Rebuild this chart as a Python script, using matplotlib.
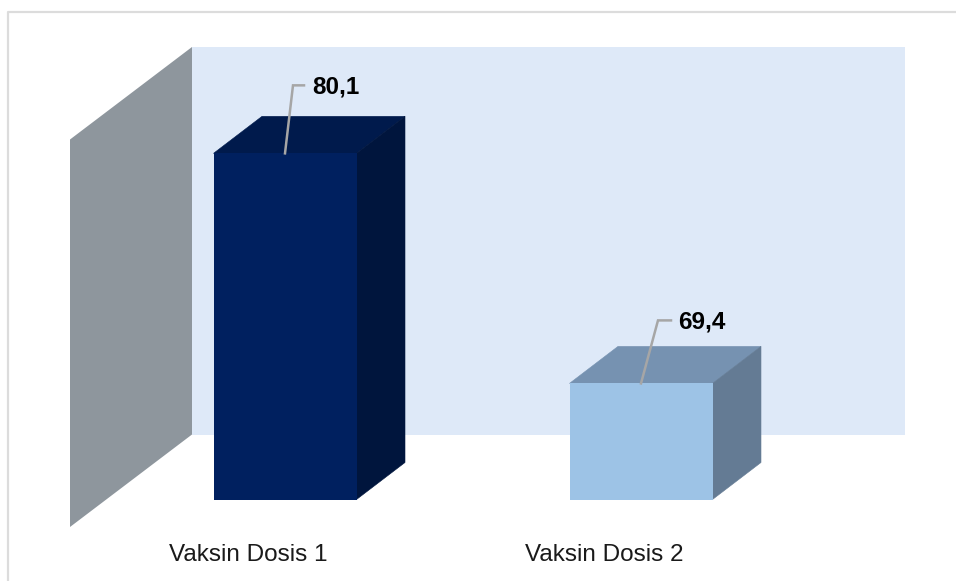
import numpy as np
import matplotlib
matplotlib.use('Agg')
import matplotlib.pyplot as plt
from matplotlib.patches import Polygon

categorias = ['Vaksin Dosis 1', 'Vaksin Dosis 2']
valores = [80.1, 69.4]
etiquetas = ['80,1', '69,4']
y_min = 64
y_max = 82

# colores: frente, tapa, lado
col_frente = ['#00205f', '#9dc3e6']
col_tapa = ['#001a4c', '#7692b1']
col_lado = ['#00153d', '#647b94']

# linea guia en pixeles: codo x, codo y, fin x, texto x
guia_dx = [8, 17]
guia_dy = [68, 63]
guia_fin = [19, 30]
texto_dx = [27, 37]

W, H = 956, 581
fig = plt.figure(figsize=(W / 100, H / 100), dpi=100)
ax = fig.add_axes([70 / W, 1 - 499.5 / H, 835 / W, 387 / H])
px_x = 356  # pixeles por categoria
px_y = 387 / (y_max - y_min)
ax.set_xlim(-215 / px_x, 620 / px_x)
ax.set_ylim(y_min, y_max)
for s in ax.spines.values():
    s.set_visible(False)
ax.patch.set_visible(False)
ax.set_yticks([])

x = np.arange(len(valores))
ancho = 143 / px_x
prof_x, prof_y = 48.5 / px_x, 37 / px_y

# pared lateral y fondo
x0 = ax.get_xlim()[0]
x1 = ax.get_xlim()[1]
pared_dx = 122 / px_x
pared_dy = 92.5 / px_y
piso = y_min - 27.5 / px_y
techo = piso + 387.5 / px_y
ax.add_patch(Polygon([(x0 + pared_dx, piso + pared_dy), (x1, piso + pared_dy),
                      (x1, techo + pared_dy), (x0 + pared_dx, techo + pared_dy)],
                     fc='#dee9f8', ec='none', clip_on=False, zorder=1))
ax.add_patch(Polygon([(x0, piso), (x0 + pared_dx, piso + pared_dy),
                      (x0 + pared_dx, techo + pared_dy), (x0, techo)],
                     fc='#8e969d', ec='none', clip_on=False, zorder=2))

# barras
ax.bar(x, np.array(valores) - y_min, ancho, bottom=y_min, color=col_frente, zorder=4)
for i, v in enumerate(valores):
    izq = x[i] - ancho / 2
    der = x[i] + ancho / 2
    ax.add_patch(Polygon([(izq, v), (der, v), (der + prof_x, v + prof_y), (izq + prof_x, v + prof_y)],
                         fc=col_tapa[i], ec=col_tapa[i], lw=0.4, zorder=3))
    ax.add_patch(Polygon([(der, y_min), (der + prof_x, y_min + prof_y),
                          (der + prof_x, v + prof_y), (der, v)],
                         fc=col_lado[i], ec=col_lado[i], lw=0.4, zorder=3))
    # linea guia de la etiqueta
    ax.plot([x[i], x[i] + guia_dx[i] / px_x, x[i] + guia_fin[i] / px_x],
            [v, v + guia_dy[i] / px_y, v + guia_dy[i] / px_y],
            color='#a6a6a6', lw=1.8, zorder=5, clip_on=False, solid_joinstyle='miter')
    ax.text(x[i] + texto_dx[i] / px_x, v + (guia_dy[i] - 1.5) / px_y, etiquetas[i], fontsize=17.5,
            fontweight='bold', family='Liberation Sans', color='black',
            ha='left', va='center', zorder=6)

# etiquetas de categoria desplazadas hacia el frente
ax.set_xticks(x - 37 / px_x)
ax.set_xticklabels(categorias, fontsize=17.5, family='Liberation Sans', color='#1a1a1a')
ax.tick_params(axis='x', length=0, pad=32)

# marco de la imagen
fig.add_artist(plt.Line2D([8 / W, 8 / W, 1], [0, 1 - 12 / H, 1 - 12 / H],
                          color='#dcdcdc', lw=1.6))

fig.savefig('out.png', dpi=100)
